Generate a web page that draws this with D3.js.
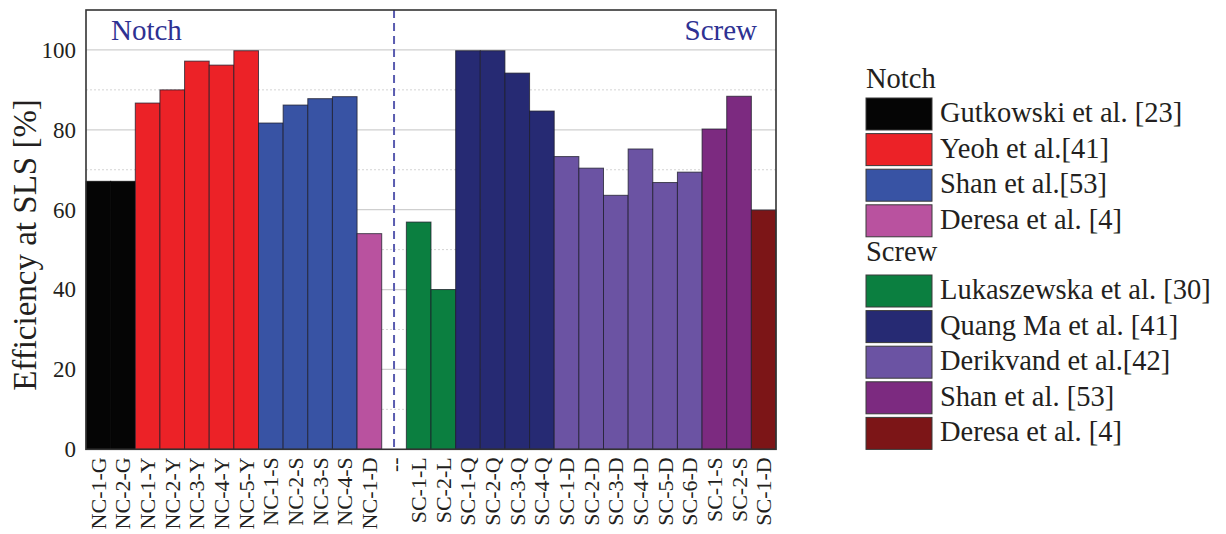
<!DOCTYPE html>
<html>
<head>
<meta charset="utf-8">
<script src="https://cdn.jsdelivr.net/npm/d3@7"></script>
<style>
  html, body { margin: 0; padding: 0; background: #fff; }
  svg { display: block; }
  svg text { font-family: "Liberation Serif", "DejaVu Serif", serif; }
</style>
</head>
<body>
<svg id="chart" width="1226" height="534"></svg>
<script>
// ---------- data ----------
const categories = ["NC-1-G","NC-2-G","NC-1-Y","NC-2-Y","NC-3-Y","NC-4-Y","NC-5-Y",
  "NC-1-S","NC-2-S","NC-3-S","NC-4-S","NC-1-D","--",
  "SC-1-L","SC-2-L","SC-1-Q","SC-2-Q","SC-3-Q","SC-4-Q",
  "SC-1-D","SC-2-D","SC-3-D","SC-4-D","SC-5-D","SC-6-D","SC-1-S","SC-2-S","SC-1-D "];
const values = [67.1, 67.1, 86.7, 90.0, 97.2, 96.2, 99.8,
  81.7, 86.2, 87.8, 88.3, 54.0, null,
  56.9, 40.0, 99.8, 99.8, 94.2, 84.7,
  73.3, 70.4, 63.6, 75.2, 66.8, 69.4, 80.2, 88.4, 59.9];
const groupOf = [0,0,1,1,1,1,1,2,2,2,2,3,-1,4,4,5,5,5,5,6,6,6,6,6,6,7,7,8];
const seriesNames = ["Gutkowski et al. [23]","Yeoh et al.[41]","Shan et al.[53]","Deresa et al. [4]",
  "Lukaszewska et al. [30]","Quang Ma et al. [41]","Derikvand et al.[42]","Shan et al. [53]","Deresa et al. [4]"];
const seriesColors = ["#050505","#ec2227","#3853a4","#b9529f","#0b7f40","#262a73","#6b53a3","#7c2a80","#7c1517"];
const legendSections = [{title:"Notch", items:[0,1,2,3]}, {title:"Screw", items:[4,5,6,7,8]}];
const yTicks = [0,20,40,60,80,100];
const yMinor = [10,30,50,70,90];
const yTitle = "Efficiency at SLS [%]";

// ---------- layout ----------
const FONT = "Liberation Serif, DejaVu Serif, serif";
const svg = d3.select("#chart");
const L = 86, R = 776, T = 10, B = 449.3;
const x = d3.scaleBand().domain(categories).range([L, R]).padding(0);
const y = d3.scaleLinear().domain([0, 110]).range([B, T]);
const txt = "#231f20";

// gridlines
svg.append("g").selectAll("line").data(yMinor).join("line")
  .attr("x1", L).attr("x2", R).attr("y1", d => y(d)).attr("y2", d => y(d))
  .attr("stroke", "#d4d4d4").attr("stroke-width", 1).attr("stroke-dasharray", "2,2");
svg.append("g").selectAll("line").data(yTicks.filter(d => d > 0)).join("line")
  .attr("x1", L).attr("x2", R).attr("y1", d => y(d)).attr("y2", d => y(d))
  .attr("stroke", "#cfcfcf").attr("stroke-width", 1.2);

// separator dashed line
const sepX = x("--") + x.bandwidth() / 2;
svg.append("line").attr("x1", sepX).attr("x2", sepX).attr("y1", T).attr("y2", B)
  .attr("stroke", "#5a5cb0").attr("stroke-width", 2).attr("stroke-dasharray", "8,5");

// bars
const barData = categories.map((c, i) => ({c, v: values[i], g: groupOf[i]})).filter(d => d.v != null);
svg.append("g").selectAll("rect").data(barData).join("rect")
  .attr("x", d => x(d.c)).attr("width", x.bandwidth())
  .attr("y", d => y(d.v)).attr("height", d => y(0) - y(d.v))
  .attr("fill", d => seriesColors[d.g])
  .attr("stroke", d => d.g === 0 ? "#050505" : "#1c1c2a")
  .attr("stroke-opacity", 0.75).attr("stroke-width", 1);

// frame
svg.append("rect").attr("x", L).attr("y", T).attr("width", R - L).attr("height", B - T)
  .attr("fill", "none").attr("stroke", "#333").attr("stroke-width", 1.6);

// y axis
const yAxis = d3.axisLeft(y).tickValues(yTicks).tickSize(0).tickPadding(10);
const gy = svg.append("g").attr("transform", `translate(${L},0)`).call(yAxis)
  .attr("font-family", FONT);
gy.select(".domain").remove();
gy.selectAll("text").attr("font-size", 23).attr("fill", txt).attr("font-family", FONT);

// x axis
const xAxis = d3.axisBottom(x).tickSize(0).tickPadding(0);
const gx = svg.append("g").attr("transform", `translate(0,${B})`).call(xAxis)
  .attr("font-family", FONT);
gx.select(".domain").remove();
gx.selectAll("text")
  .attr("font-size", 22).attr("fill", txt).attr("font-family", FONT)
  .attr("text-anchor", "end").attr("dy", null)
  .attr("transform", "translate(7.5,8) rotate(-90)")
  .attr("y", 0).attr("x", 0);

// y title
svg.append("text").attr("transform", "translate(36,245) rotate(-90)")
  .attr("text-anchor", "middle").attr("font-size", 33).attr("font-family", FONT)
  .attr("fill", txt).text(yTitle);

// section labels inside plot
svg.append("text").attr("x", 111).attr("y", 40).attr("font-size", 29).attr("font-family", FONT)
  .attr("fill", "#2e3192").text("Notch");
svg.append("text").attr("x", 757).attr("y", 40).attr("font-size", 29).attr("font-family", FONT)
  .attr("text-anchor", "end").attr("fill", "#2e3192").text("Screw");

// legend
const leg = svg.append("g").attr("font-family", FONT);
const sectionTops = [88, 261];
const swatchTops = [98, 275];
const pitch = 35.6;
legendSections.forEach((s, si) => {
  leg.append("text").attr("x", 866).attr("y", sectionTops[si]).attr("font-size", 28.5)
    .attr("font-family", FONT).attr("fill", txt).text(s.title);
  s.items.forEach((gi, k) => {
    const ty = swatchTops[si] + k * pitch;
    leg.append("rect").attr("x", 866).attr("y", ty).attr("width", 66).attr("height", 32)
      .attr("fill", seriesColors[gi]).attr("stroke", "#3a3a3a").attr("stroke-width", 1);
    leg.append("text").attr("x", 940).attr("y", ty + 24).attr("font-size", 28.5)
      .attr("font-family", FONT).attr("fill", txt).text(seriesNames[gi]);
  });
});
</script>
</body>
</html>
